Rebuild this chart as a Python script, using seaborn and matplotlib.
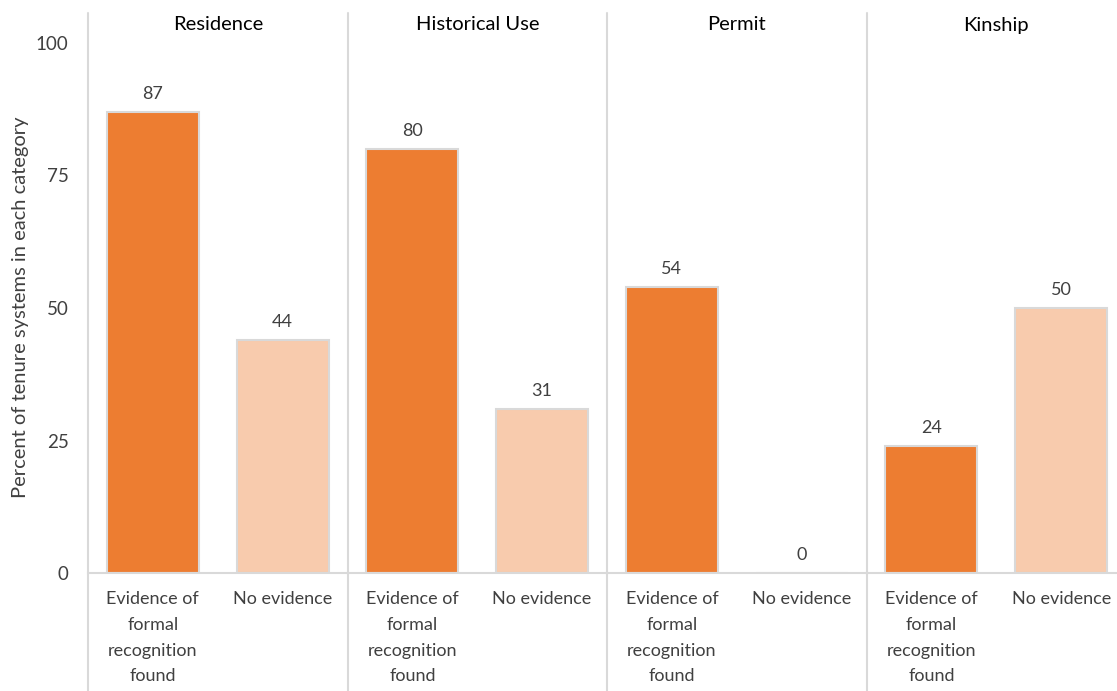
import matplotlib
matplotlib.use("Agg")
import matplotlib.pyplot as plt
from matplotlib.lines import Line2D
import seaborn as sns
import pandas as pd

groups = ["Residence", "Historical Use", "Permit", "Kinship"]
categories = ["Evidence of\nformal\nrecognition\nfound", "No evidence"]
evidence_vals = [87, 80, 54, 24]
no_evidence_vals = [44, 31, 0, 50]
yticks = [0, 25, 50, 75, 100]
ylabel = "Percent of tenure systems in each category"

dark = "#ED7D31"
light = "#F8CBAD"
edge = "#D9D9D9"
textc = "#404040"

sns.set_theme(style="white")
plt.rcParams["font.family"] = ["Lato", "DejaVu Sans"]

W, H = 1117, 691
fig = plt.figure(figsize=(W / 100, H / 100), dpi=100)

left0 = 88
pw = 259.5
y0 = 573
ytop = 13
ymax = 100 * (y0 - ytop) / (y0 - 43)

for i, g in enumerate(groups):
    ax = fig.add_axes([(left0 + pw * i) / W, (H - y0) / H, pw / W, (y0 - ytop) / H])
    df = pd.DataFrame({"category": categories,
                       "value": [evidence_vals[i], no_evidence_vals[i]]})
    sns.barplot(data=df, x="category", y="value", hue="category",
                palette=[dark, light], saturation=1, width=0.71, edgecolor=edge,
                linewidth=1.5, legend=False, ax=ax)
    for c in ax.containers:
        ax.bar_label(c, fmt="%d", padding=7, fontsize=13, color=textc)
    ax.set_ylim(0, ymax)
    ax.set_xlim(-0.5, 1.5)
    ax.set_xlabel("")
    ax.set_ylabel("")
    for s in ["left", "right", "top"]:
        ax.spines[s].set_visible(False)
    ax.spines["bottom"].set_color(edge)
    ax.spines["bottom"].set_linewidth(1.5)
    ax.tick_params(axis="x", length=0, pad=13, labelsize=13, labelcolor=textc)
    ax.set_xticks([0, 1])
    ax.set_xticklabels(categories, linespacing=1.75)
    ax.text(0.5, 1 - 12 / (y0 - ytop), g, transform=ax.transAxes,
            ha="center", va="center", fontsize=14.5, color="black")
    if i == 0:
        ax.set_yticks(yticks)
        ax.tick_params(axis="y", length=0, pad=14, labelsize=13.5, labelcolor=textc)
        ax.set_ylabel(ylabel, fontsize=14.5, color=textc)
        ax.yaxis.set_label_coords(-(left0 - 21) / pw, (y0 - 307) / (y0 - ytop))
        ax.yaxis.label.set_va("center")
    else:
        ax.set_yticks([])
    ax.set_facecolor("none")

for i in range(4):
    x = (left0 + pw * i) / W
    fig.add_artist(Line2D([x, x], [0, (H - ytop) / H], transform=fig.transFigure,
                          color=edge, linewidth=1.5))

fig.savefig("out.png", dpi=100)
